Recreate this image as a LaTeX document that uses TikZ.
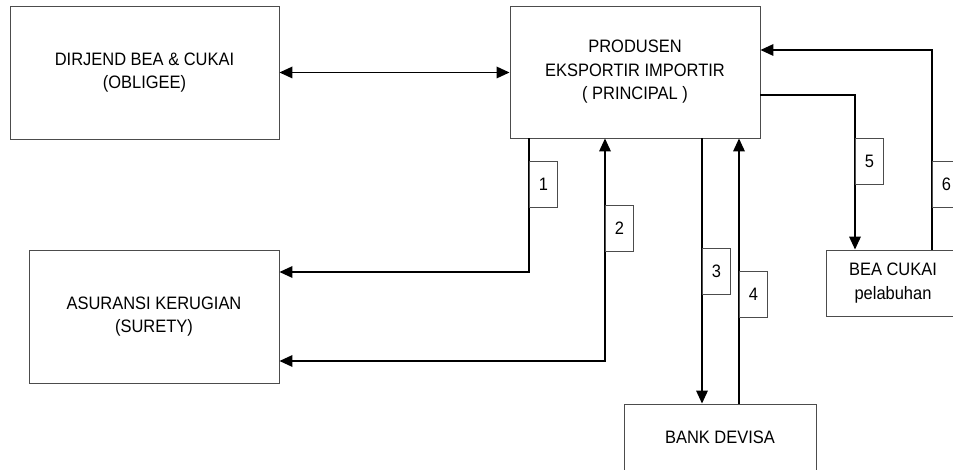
\documentclass[tikz,border=0pt]{standalone}
\usepackage{fontspec}
\setmainfont{Liberation Sans}[FakeStretch=0.915]
\usetikzlibrary{arrows.meta,positioning,calc}
\tikzset{
  >={Triangle[length=13pt,width=11.5pt]},
  box/.style={draw=black!70,line width=0.9pt,align=center,inner sep=0pt,
    font=\fontsize{18}{23.5}\selectfont},
  tag/.style={draw=black!70,line width=0.9pt,minimum width=28pt,minimum height=46pt,
    inner sep=0pt,anchor=west,font=\fontsize{18}{23.5}\selectfont},
  link/.style={line width=1.8pt,->}
}

\begin{document}
\begin{tikzpicture}[x=1pt,y=-1pt]
  \clip (0,0) rectangle (953,470);
  \fill[white] (0,0) rectangle (953,470);
  \node[box,minimum width=269pt,minimum height=133pt] (dirjend) at (144.5,72.5) {DIRJEND BEA \& CUKAI\\(OBLIGEE)};
  \node[box,minimum width=250pt,minimum height=132pt] (produsen) at (635,72) {PRODUSEN\\EKSPORTIR IMPORTIR\\( PRINCIPAL )};
  \node[box,minimum width=250pt,minimum height=133pt] (asuransi) at (154,316.5) {ASURANSI KERUGIAN\\(SURETY)};
  \node[box,minimum width=192pt,minimum height=66pt] (bank) at (720,437) {BANK DEVISA};
  \node[box,minimum width=134pt,minimum height=66pt] (beacukai) at (893,283) {BEA CUKAI\\pelabuhan};
  \coordinate (k1) at (529,272);
  \coordinate (k2) at (605,361);
  \coordinate (k3) at (702,0);
  \coordinate (k4) at (739,0);
  \coordinate (k5) at (855,95);
  \coordinate (k6) at (932,50);
  \draw[link,<->] (dirjend.east) -- (dirjend.east -| produsen.west);
  \draw[link] (produsen.south -| k1) |- (k1 -| asuransi.east);
  \draw[link,<->] (asuransi.east |- k2) -| (produsen.south -| k2);
  \draw[link] (produsen.south -| k3) -- (bank.north -| k3);
  \draw[link] (bank.north -| k4) -- (produsen.south -| k4);
  \draw[link] (produsen.east |- k5) -| (beacukai.north -| k5);
  \draw[link] (beacukai.north -| k6) |- (produsen.east |- k6);
  \node[tag] (t1) at (529,184) {1};
  \node[tag] (t2) at (605,228) {2};
  \node[tag] (t3) at (702,271.5) {3};
  \node[tag] (t4) at (739,294.5) {4};
  \node[tag] (t5) at (855,161.5) {5};
  \node[tag] (t6) at (932,184) {6};
\end{tikzpicture}
\end{document}
